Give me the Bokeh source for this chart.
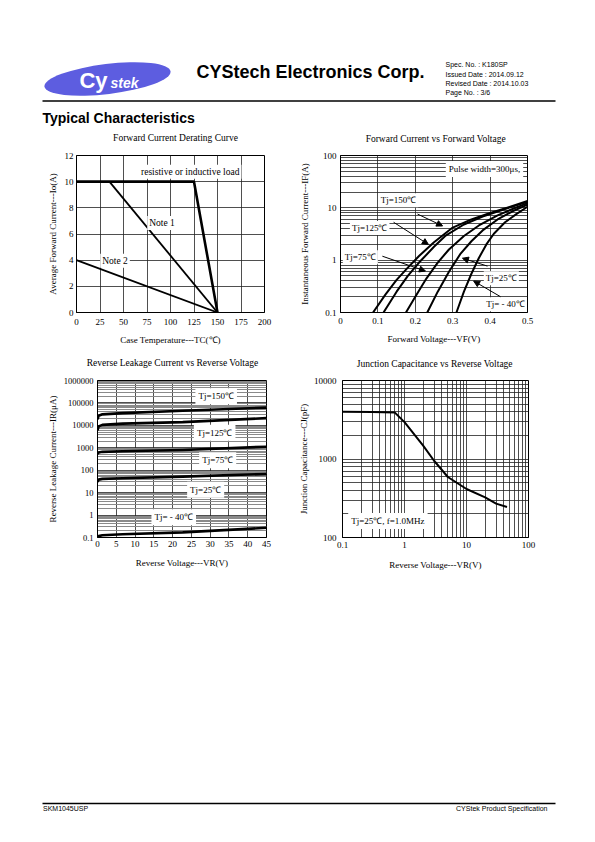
from bokeh.plotting import figure
from bokeh.layouts import column, row
from bokeh.models import Range1d, Label, Arrow, NormalHead, FixedTicker, NumeralTickFormatter
from bokeh.embed import file_html
from bokeh.resources import INLINE

SERIF = "Liberation Serif"
SANS = "Liberation Sans"

# ---------------- data ----------------
# Chart 1: Forward Current Derating Curve
derate_temp = [0, 125, 150]
derate_current = [10, 10, 0]
note1_temp = [35, 150]
note1_current = [10, 0]
note2_temp = [0, 150]
note2_current = [4, 0]
derate_xticks = [0, 25, 50, 75, 100, 125, 150, 175, 200]
derate_yticks = [0, 2, 4, 6, 8, 10, 12]

# Chart 2: Forward Current vs Forward Voltage
vf_150 = [0.087, 0.12, 0.15, 0.18, 0.21, 0.25, 0.30, 0.35, 0.40, 0.45, 0.50]
if_150 = [0.1, 0.22, 0.42, 0.72, 1.2, 2.2, 4.2, 6.0, 8.0, 10.3, 13.5]
vf_125 = [0.115, 0.15, 0.18, 0.21, 0.25, 0.28, 0.33, 0.38, 0.44, 0.50]
if_125 = [0.1, 0.25, 0.5, 0.9, 1.8, 2.9, 4.8, 6.8, 9.5, 13.0]
vf_75 = [0.175, 0.20, 0.23, 0.26, 0.29, 0.33, 0.37, 0.42, 0.46, 0.50]
if_75 = [0.1, 0.2, 0.45, 0.9, 1.6, 2.9, 4.6, 7.2, 9.5, 12.3]
vf_25 = [0.232, 0.26, 0.29, 0.32, 0.35, 0.38, 0.42, 0.46, 0.50]
if_25 = [0.1, 0.25, 0.6, 1.3, 2.3, 3.7, 6.0, 8.6, 11.5]
vf_m40 = [0.31, 0.33, 0.35, 0.37, 0.39, 0.41, 0.44, 0.47, 0.50]
if_m40 = [0.1, 0.25, 0.55, 1.1, 2.0, 3.2, 5.3, 7.6, 10.5]
fv_xticks = [0, 0.1, 0.2, 0.3, 0.4, 0.5]
fv_yticks = [0.1, 1, 10, 100]

# Chart 3: Reverse Leakage Current vs Reverse Voltage
vr_leak = [0, 0.3, 1.3, 6.7, 22.7, 45]
ir_150 = [18600, 27000, 31000, 35000, 45000, 62000]
ir_125 = [6000, 9000, 10500, 12000, 14000, 21000]
ir_75 = [520, 620, 660, 700, 800, 1120]
ir_25 = [30, 38, 41, 44, 52, 68]
ir_m40 = [0.1, 0.115, 0.125, 0.14, 0.17, 0.27]
rl_xticks = [0, 5, 10, 15, 20, 25, 30, 35, 40, 45]
rl_yticks = [0.1, 1, 10, 100, 1000, 10000, 100000, 1000000]

# Chart 4: Junction Capacitance vs Reverse Voltage
vr_cap = [0.1, 0.3, 0.7, 1.0, 2.0, 3.0, 5.0, 10.0, 20.0, 30.0, 45.0]
cj_pf = [4000, 3980, 3900, 2950, 1480, 950, 590, 415, 325, 270, 245]
jc_xticks = [0.1, 1, 10, 100]
jc_yticks = [100, 1000, 10000]

chart_titles = ["Forward Current Derating Curve",
                "Forward  Current  vs  Forward  Voltage",
                "Reverse  Leakage  Current  vs  Reverse  Voltage",
                "Junction  Capacitance  vs  Reverse  Voltage"]


def log_minors(decades):
    return [m * 10.0 ** e for e in decades for m in range(2, 10)]


def strip(height, y_top, x_width=587):
    """A blank figure whose data coordinates equal page pixels (y downwards)."""
    s = figure(width=x_width, height=height, x_range=Range1d(0, x_width), y_range=Range1d(y_top + height, y_top),
               output_backend="svg", toolbar_location=None, min_border=0,
               x_axis_location=None, y_axis_location=None)
    s.grid.visible = False
    s.outline_line_color = None
    return s


def title_label(s, x, y, text):
    s.add_layout(Label(x=x, y=y, text=text, text_font=SERIF, text_font_size="9.5px", text_color="black",
                       text_align="center", text_baseline="middle"))


def make_fig(w, h, left, right, top, bottom, xr, yr, xtype="linear", ytype="linear",
             xtick=3, ytick=3, xlab=8, ylab=4, ytick_size="9px"):
    p = figure(width=w, height=h, x_range=xr, y_range=yr, x_axis_type=xtype, y_axis_type=ytype,
               output_backend="svg", toolbar_location=None,
               min_border_left=left, min_border_right=right, min_border_top=top, min_border_bottom=bottom)
    p.outline_line_color = "black"
    p.outline_line_width = 1
    for ax in (p.xaxis[0], p.yaxis[0]):
        ax.axis_line_color = "black"
        ax.major_tick_line_color = None
        ax.minor_tick_line_color = None
        ax.major_tick_out = 0
        ax.major_tick_in = 0
        ax.minor_tick_out = 0
        ax.minor_tick_in = 0
        ax.major_label_text_font = SERIF
        ax.major_label_text_font_size = "9px"
        ax.major_label_text_color = "black"
        ax.axis_label_text_font = SERIF
        ax.axis_label_text_font_size = "9px"
        ax.axis_label_text_font_style = "normal"
        ax.axis_label_text_color = "black"
    p.yaxis[0].major_label_text_font_size = ytick_size
    p.xaxis[0].major_label_standoff = int(xtick)
    p.yaxis[0].major_label_standoff = int(ytick)
    p.yaxis[0].axis_label_standoff = int(ylab)
    p.xaxis[0].axis_label_standoff = int(xlab)
    for g in (p.xgrid[0], p.ygrid[0]):
        g.grid_line_color = "#222222"
        g.grid_line_width = 0.8
        g.grid_line_alpha = 1
    return p


def add_label(p, x, y, text, size="9px", pad=2):
    p.add_layout(Label(x=x, y=y, text=text, text_align="center", text_baseline="middle",
                       text_font=SERIF, text_font_size=size, text_color="black",
                       background_fill_color="white", padding=pad))


def add_arrow(p, x0, y0, x1, y1):
    p.add_layout(Arrow(end=NormalHead(size=6, fill_color="black", line_color="black", line_width=1),
                       x_start=x0, y_start=y0, x_end=x1, y_end=y1, line_width=1, line_color="black"))


# ---------------- header (page y 0..146) ----------------
hdr = strip(146, 0)
hdr.ellipse(x=[107], y=[78.5], width=127, height=30, angle=0.12, fill_color="#5d5de0", line_color=None)
hdr.add_layout(Label(x=93, y=80, text="Cy", text_font=SANS, text_font_size="22px", text_font_style="bold",
                     text_color="white", text_align="center", text_baseline="middle"))
hdr.add_layout(Label(x=124, y=82, text="stek", text_font=SANS, text_font_size="14px", text_font_style="bold italic",
                     text_color="white", text_align="center", text_baseline="middle"))
hdr.add_layout(Label(x=196, y=71, text="CYStech Electronics Corp.", text_font=SANS, text_font_size="18px",
                     text_font_style="bold", text_color="black", text_baseline="middle"))
spec_lines = ["Spec. No. : K180SP", "Issued Date : 2014.09.12", "Revised Date : 2014.10.03", "Page No. : 3/6"]
for i, t in enumerate(spec_lines):
    hdr.add_layout(Label(x=445, y=64.3 + 9.2 * i, text=t, text_font=SANS, text_font_size="7px",
                         text_color="black", text_baseline="middle"))
hdr.segment(x0=[42], y0=[100.5], x1=[555], y1=[100.5], line_width=1.5, line_color="black")
hdr.add_layout(Label(x=42, y=117, text="Typical Characteristics", text_font=SANS, text_font_size="14px",
                     text_font_style="bold", text_color="black", text_baseline="middle"))
title_label(hdr, 175, 137.5, chart_titles[0])
title_label(hdr, 440, 138.5, chart_titles[1])

# ---------------- chart 1 (row 1: page y 146..352) ----------------
p1 = make_fig(293, 206, 76, 29, 8, 40, Range1d(0, 200), Range1d(0, 12),
              xtick=6, ytick=3, xlab=7, ylab=4)
p1.xaxis.ticker = FixedTicker(ticks=derate_xticks)
p1.yaxis.ticker = FixedTicker(ticks=derate_yticks)
p1.xaxis.axis_label = "Case Temperature---TC(℃)"
p1.yaxis.axis_label = "Average Forward Current---Io(A)"
p1.line(derate_temp, derate_current, line_width=2.6, line_color="black")
p1.line(note1_temp, note1_current, line_width=1.8, line_color="black")
p1.line(note2_temp, note2_current, line_width=1.8, line_color="black")
add_label(p1, 121, 10.75, "resistive or inductive load", size="9.5px")
add_label(p1, 91, 6.84, "Note 1", size="9.5px")
add_label(p1, 41, 3.95, "Note 2", size="9.5px")

# ---------------- chart 2 ----------------
p2 = make_fig(294, 206, 47, 60, 9, 40, Range1d(0, 0.5), Range1d(0.1, 100),
              ytype="log", xtick=5, ytick=4, xlab=7, ylab=10)
p2.xaxis.ticker = FixedTicker(ticks=fv_xticks)
p2.yaxis.ticker = FixedTicker(ticks=fv_yticks, minor_ticks=log_minors([-1, 0, 1]))
p2.xaxis.formatter = NumeralTickFormatter(format="0.[0]")
p2.yaxis.formatter = NumeralTickFormatter(format="0.[0]")
p2.ygrid.minor_grid_line_color = "#222222"
p2.ygrid.minor_grid_line_width = 0.8
p2.xaxis.axis_label = "Forward Voltage---VF(V)"
p2.yaxis.axis_label = "Instantaneous Forward Current---IF(A)"
for vx, iy in ((vf_150, if_150), (vf_125, if_125), (vf_75, if_75), (vf_25, if_25), (vf_m40, if_m40)):
    p2.line(vx, iy, line_width=2, line_color="black", line_join="round")
add_label(p2, 0.385, 55, "Pulse width=300μs,", pad=3)
add_label(p2, 0.155, 14, "Tj=150℃")
add_arrow(p2, 0.206, 7.6, 0.273, 4.5)
add_label(p2, 0.078, 4.1, "Tj=125℃")
add_arrow(p2, 0.142, 5.3, 0.235, 2.0)
add_label(p2, 0.053, 1.14, "Tj=75℃")
add_arrow(p2, 0.112, 1.19, 0.227, 0.62)
add_label(p2, 0.43, 0.45, "Tj=25℃")
add_arrow(p2, 0.393, 0.77, 0.326, 1.09)
add_label(p2, 0.441, 0.144, "Tj= - 40℃")
add_arrow(p2, 0.428, 0.2, 0.356, 0.4)

# ---------------- strip between rows (page y 352..372) ----------------
mid = strip(20, 352)
title_label(mid, 178, 362, chart_titles[2])
title_label(mid, 439, 363.5, chart_titles[3])

# ---------------- chart 3 (row 2: page y 372..577) ----------------
p3 = make_fig(293, 205, 97, 27, 6, 40, Range1d(0, 45), Range1d(0.1, 1000000),
              ytype="log", xtick=3, ytick=4, xlab=8, ylab=3, ytick_size="8.5px")
p3.xaxis.ticker = FixedTicker(ticks=rl_xticks)
p3.yaxis.ticker = FixedTicker(ticks=rl_yticks, minor_ticks=log_minors([-1, 0, 1, 2, 3, 4, 5]))
p3.yaxis.formatter = NumeralTickFormatter(format="0.[0]")
p3.ygrid.minor_grid_line_color = "#8a8a8a"
p3.ygrid.minor_grid_line_width = 1
p3.xaxis.axis_label = "Reverse Voltage---VR(V)"
p3.yaxis.axis_label = "Reverse Leakage Current---IR(μA)"
for iy in (ir_150, ir_125, ir_75, ir_25, ir_m40):
    p3.line(vr_leak, iy, line_width=2.6, line_color="black", line_join="round")
add_label(p3, 31.6, 200000, "Tj=150℃", pad=3)
add_label(p3, 31.2, 4700, "Tj=125℃", pad=3)
add_label(p3, 32, 280, "Tj=75℃", pad=3)
add_label(p3, 28.8, 13.5, "Tj=25℃", pad=3)
add_label(p3, 20.3, 0.8, "Tj= - 40℃", pad=3)

# ---------------- chart 4 ----------------
p4 = make_fig(294, 205, 49, 59, 8, 40, Range1d(0.1, 100), Range1d(100, 10000),
              xtype="log", ytype="log", xtick=4, ytick=6, xlab=9, ylab=2)
p4.xaxis.ticker = FixedTicker(ticks=jc_xticks, minor_ticks=log_minors([-1, 0, 1]))
p4.yaxis.ticker = FixedTicker(ticks=jc_yticks, minor_ticks=log_minors([2, 3]))
p4.xaxis.formatter = NumeralTickFormatter(format="0.[0]")
p4.yaxis.formatter = NumeralTickFormatter(format="0")
p4.xgrid.minor_grid_line_color = "#222222"
p4.xgrid.minor_grid_line_width = 0.8
p4.ygrid.minor_grid_line_color = "#222222"
p4.ygrid.minor_grid_line_width = 0.8
p4.xaxis.axis_label = "Reverse Voltage---VR(V)"
p4.yaxis.axis_label = "Junction Capacitance---CJ(pF)"
p4.line(vr_cap, cj_pf, line_width=2, line_color="black", line_join="round")
add_label(p4, 0.54, 162, "Tj=25℃, f=1.0MHz", pad=3)

# ---------------- footer (page y 577..837) ----------------
ftr = strip(260, 577)
ftr.segment(x0=[42], y0=[803], x1=[555], y1=[803], line_width=1.3, line_color="black")
ftr.add_layout(Label(x=42.5, y=808, text="SKM1045USP", text_font=SANS, text_font_size="7px",
                     text_color="black", text_baseline="middle"))
ftr.add_layout(Label(x=547, y=808, text="CYStek Product Specification", text_font=SANS, text_font_size="7px",
                     text_color="black", text_baseline="middle", text_align="right"))

layout = column(hdr, row(p1, p2), mid, row(p3, p4), ftr)
open("out.html", "w").write(file_html(layout, INLINE))
